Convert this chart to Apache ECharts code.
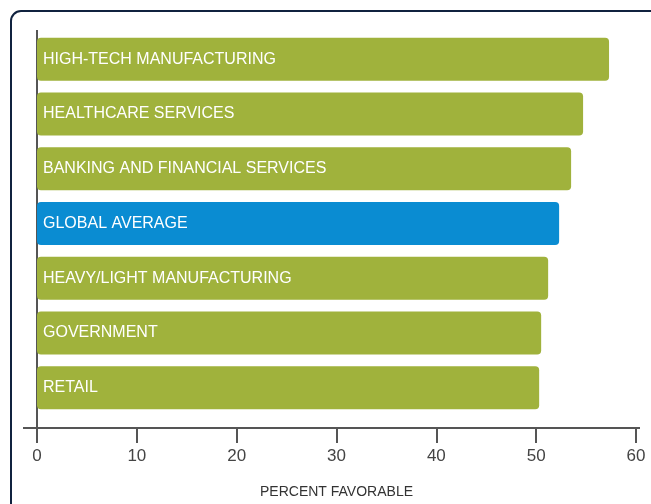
<!DOCTYPE html>
<html>
<head>
<meta charset="utf-8">
<script src="https://cdn.jsdelivr.net/npm/echarts@6/dist/echarts.min.js"></script>
<style>
  html, body { margin: 0; padding: 0; background: #fff; }
  #chart { width: 651px; height: 504px; }
</style>
</head>
<body>
<div id="chart"></div>
<script>
// 行业分类(自上而下)
const categories = [
  'HIGH-TECH MANUFACTURING',
  'HEALTHCARE SERVICES',
  'BANKING AND FINANCIAL SERVICES',
  'GLOBAL AVERAGE',
  'HEAVY/LIGHT MANUFACTURING',
  'GOVERNMENT',
  'RETAIL'
]
// 好评百分比
const values = [57.3, 54.7, 53.5, 52.3, 51.2, 50.5, 50.3]
const xTicks = [0, 10, 20, 30, 40, 50, 60]
const highlight = 'GLOBAL AVERAGE'

const green = '#a0b23c'
const blue = '#0a8cd2'
const axisColor = '#555'
const font = '"Liberation Sans", Arial, sans-serif'

const chart = echarts.init(document.getElementById('chart'))

const option = {
  animation: false,
  grid: { left: 37, right: 15, top: 32, bottom: 89, outerBoundsMode: 'none', containLabel: false },
  xAxis: {
    type: 'value',
    min: xTicks[0],
    max: xTicks[xTicks.length - 1],
    interval: 10,
    offset: 13,
    name: 'PERCENT FAVORABLE',
    nameLocation: 'middle',
    nameGap: 57,
    nameTextStyle: { color: '#333', fontSize: 14, fontFamily: font },
    axisLine: { show: false },
    axisTick: { show: true, length: 15, lineStyle: { color: axisColor, width: 2 } },
    axisLabel: { color: '#444', fontSize: 17, fontFamily: font, margin: 20 },
    splitLine: { show: false }
  },
  yAxis: {
    type: 'category',
    inverse: true,
    data: categories,
    axisLine: { show: false },
    axisTick: { show: false },
    axisLabel: { show: false }
  },
  series: [{
    type: 'bar',
    barWidth: 43,
    data: values.map((v, i) => ({
      value: v,
      itemStyle: { color: categories[i] === highlight ? blue : green }
    })),
    itemStyle: { borderRadius: 4 },
    label: {
      show: true,
      position: 'insideLeft',
      distance: 6,
      formatter: '{b}',
      color: '#fff',
      fontSize: 16,
      fontFamily: font,
      padding: [3, 0, 0, 0]
    }
  }]
}

chart.setOption(option)

// 外框和延长的坐标轴线
const x0 = chart.convertToPixel({ xAxisIndex: 0 }, 0)
const x60 = chart.convertToPixel({ xAxisIndex: 0 }, 60)
const axisY = 504 - 89 + 13
chart.setOption({
  graphic: [
    {
      type: 'rect',
      shape: { x: 11, y: 11, width: 680, height: 540, r: 10 },
      style: { fill: 'none', stroke: '#10223f', lineWidth: 2 },
      silent: true
    },
    {
      type: 'line',
      shape: { x1: 23, y1: axisY, x2: x60 + 4, y2: axisY },
      style: { stroke: axisColor, lineWidth: 2 },
      silent: true
    },
    {
      type: 'line',
      shape: { x1: x0, y1: 30, x2: x0, y2: axisY },
      style: { stroke: axisColor, lineWidth: 2 },
      silent: true
    }
  ]
})
</script>
</body>
</html>
